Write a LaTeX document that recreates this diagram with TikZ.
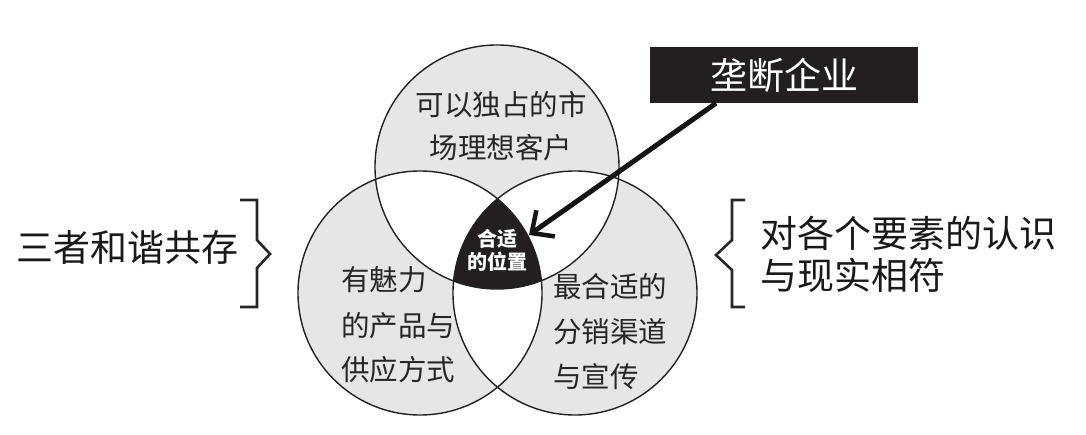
\documentclass[tikz,border=0pt]{standalone}
\usepackage{fontspec}
\setmainfont{Noto Sans CJK SC}
\usetikzlibrary{arrows.meta}
\definecolor{ringfill}{HTML}{E6E6E6}
\definecolor{ringline}{HTML}{222222}
\definecolor{boxblack}{HTML}{231F20}
\tikzset{
  ringtext/.style={font=\fontsize{28.5}{34}\selectfont, text=black!85, inner sep=0pt},
  bigtext/.style={font=\fontsize{37}{44}\selectfont, text=black!90, inner sep=0pt},
  ring/.style={circle, draw=ringline, line width=1.4pt, minimum size=244pt, inner sep=0pt},
  bracketline/.style={draw=black!85, line width=2.6pt, line join=miter},
}
\begin{document}
\begin{tikzpicture}[x=1pt,y=-1pt]
\useasboundingbox (0,0) rectangle (1086,435);
\fill[white] (0,0) rectangle (1086,435);
\def\rr{122}
\def\topc{(497,167)}
\def\leftc{(420,293)}
\def\rightc{(575,293)}
% gray fills
\fill[ringfill] \topc circle (\rr);
\fill[ringfill] \leftc circle (\rr);
\fill[ringfill] \rightc circle (\rr);
% pairwise intersections white
\begin{scope}\clip \topc circle (\rr); \fill[white] \leftc circle (\rr); \fill[white] \rightc circle (\rr);\end{scope}
\begin{scope}\clip \leftc circle (\rr); \fill[white] \rightc circle (\rr);\end{scope}
% triple intersection black
\begin{scope}\clip \topc circle (\rr); \clip \leftc circle (\rr); \fill[boxblack] \rightc circle (\rr);\end{scope}
% outlines
\node[ring] (ctop) at (497,167) {};
\node[ring] (cleft) at (420,293) {};
\node[ring] (cright) at (575,293) {};
% circle texts
\node[ringtext] (t1) at (501,105) {可以独占的市};
\node[ringtext] (t2) at (501,148) {场理想客户};
\node[ringtext, anchor=west] (l1) at (341,280) {有魅力};
\node[ringtext, anchor=west] (l2) at (341,326) {的产品与};
\node[ringtext, anchor=west] (l3) at (341,370) {供应方式};
\node[ringtext, anchor=west] (r1) at (553,287) {最合适的};
\node[ringtext, anchor=west] (r2) at (553,332) {分销渠道};
\node[ringtext, anchor=west] (r3) at (553,377) {与宣传};
% center text
\node[font=\fontsize{20}{24}\selectfont\bfseries, text=white, align=center, inner sep=0pt] (mid) at (497,250) {合适\\[-1pt]的位置};
% box
\node[fill=boxblack, minimum width=268pt, minimum height=56pt, inner sep=0pt, font=\fontsize{37}{44}\selectfont, text=white] (box) at (784,75) {垄断企业};
\coordinate (tip) at (529,235);
\draw[line width=5pt, black!92, -{Straight Barb[length=17pt, width=32pt, line width=4.5pt]}] (box.south west -| 716,103) -- (tip);
% side texts
\node[bigtext, anchor=west] (left) at (16,247) {三者和谐共存};
\node[bigtext, anchor=west] (rt1) at (760,233) {对各个要素的认识};
\node[bigtext, anchor=west] (rt2) at (760,275) {与现实相符};
% brackets
\draw[bracketline] (240,200) -- (257,200) -- (257,240) -- (270,254) -- (257,268) -- (257,307) -- (240,307);
\draw[bracketline] (745,200) -- (732,200) -- (732,240) -- (716,255) -- (732,270) -- (732,307) -- (745,307);
\end{tikzpicture}
\end{document}
